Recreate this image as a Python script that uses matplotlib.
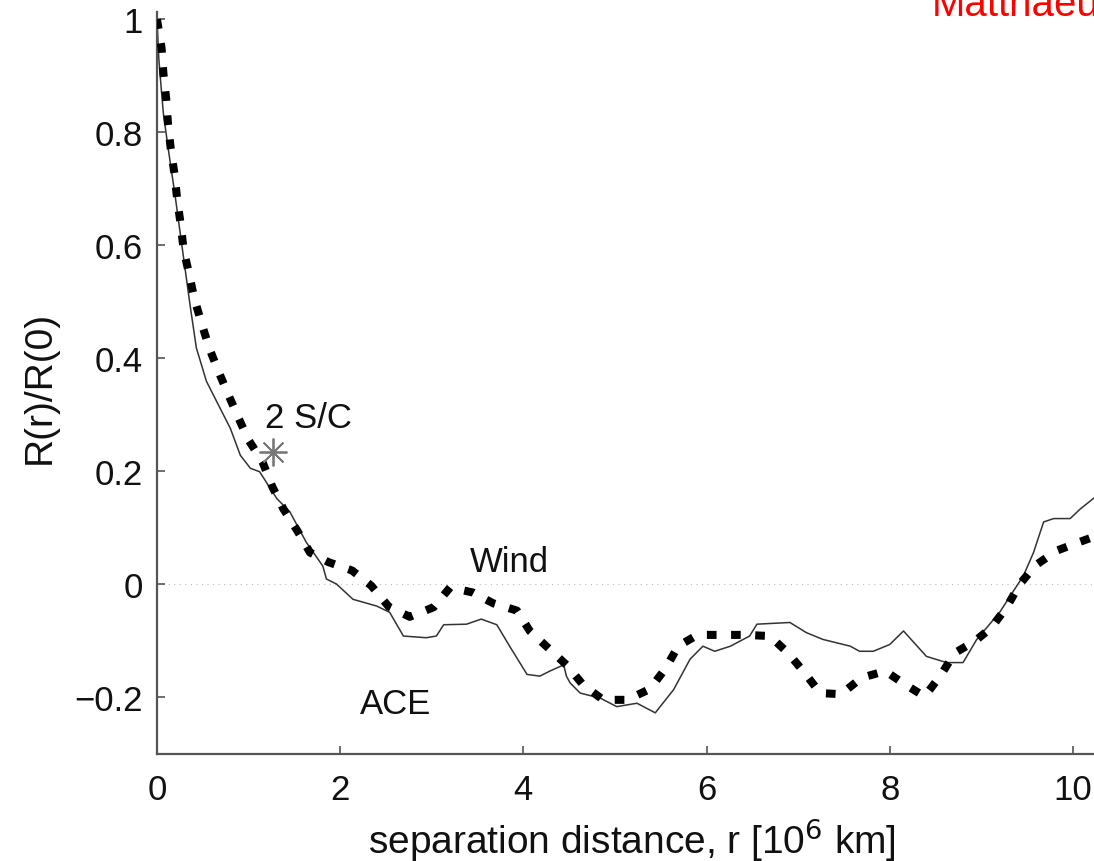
import matplotlib
matplotlib.use("Agg")
import matplotlib.pyplot as plt

plt.rcParams['font.family'] = ['Liberation Sans', 'DejaVu Sans']

# ---- data ----
ace_x = [0.00, 0.02, 0.05, 0.07, 0.12, 0.20, 0.29, 0.36, 0.43, 0.54, 0.69, 0.80, 0.91,
         1.02, 1.12, 1.31, 1.45, 1.63, 1.81, 1.85, 1.96, 2.14, 2.40, 2.54, 2.69, 2.94,
         3.05, 3.13, 3.38, 3.54, 3.71, 3.85, 4.04, 4.18, 4.29, 4.44, 4.47, 4.51, 4.62,
         4.84, 5.02, 5.24, 5.44, 5.64, 5.82, 5.96, 6.09, 6.26, 6.47, 6.55, 6.91, 7.09,
         7.27, 7.57, 7.67, 7.82, 8.00, 8.15, 8.40, 8.62, 8.80, 8.95, 9.20, 9.46, 9.57,
         9.68, 9.79, 9.97, 10.08, 10.25]
ace_y = [1.000, 0.930, 0.870, 0.833, 0.774, 0.685, 0.578, 0.495, 0.418, 0.359, 0.311,
         0.276, 0.228, 0.205, 0.199, 0.151, 0.128, 0.074, 0.032, 0.009, 0.000, -0.027,
         -0.039, -0.050, -0.092, -0.095, -0.092, -0.072, -0.071, -0.062, -0.072, -0.110,
         -0.160, -0.163, -0.154, -0.143, -0.163, -0.175, -0.193, -0.202, -0.217, -0.211,
         -0.228, -0.187, -0.133, -0.110, -0.119, -0.110, -0.092, -0.071, -0.068, -0.086,
         -0.098, -0.110, -0.119, -0.119, -0.107, -0.083, -0.128, -0.139, -0.139, -0.098,
         -0.050, 0.015, 0.056, 0.110, 0.116, 0.116, 0.133, 0.155]

wind_x = [0.00, 0.05, 0.07, 0.10, 0.12, 0.15, 0.19, 0.22, 0.26, 0.29, 0.35, 0.41, 0.49,
          0.57, 0.67, 0.78, 0.89, 1.00, 1.15, 1.26, 1.38, 1.53, 1.67, 1.87, 2.13, 2.34,
          2.53, 2.76, 3.02, 3.20, 3.45, 3.67, 3.93, 4.07, 4.27, 4.47, 4.65, 4.87, 5.13,
          5.38, 5.55, 5.69, 5.90, 6.16, 6.43, 6.69, 6.89, 7.07, 7.24, 7.47, 7.69, 7.95,
          8.17, 8.38, 8.55, 8.71, 8.93, 9.11, 9.28, 9.42, 9.59, 9.82, 10.08, 10.25]
wind_y = [1.000, 0.949, 0.904, 0.860, 0.815, 0.771, 0.727, 0.682, 0.635, 0.593, 0.549,
          0.504, 0.460, 0.418, 0.377, 0.335, 0.294, 0.255, 0.217, 0.172, 0.133, 0.095,
          0.056, 0.039, 0.024, -0.003, -0.040, -0.058, -0.041, -0.006, -0.015, -0.034,
          -0.047, -0.083, -0.113, -0.143, -0.178, -0.205, -0.205, -0.186, -0.150, -0.110,
          -0.090, -0.090, -0.090, -0.092, -0.122, -0.157, -0.193, -0.195, -0.166, -0.154,
          -0.178, -0.199, -0.163, -0.122, -0.101, -0.077, -0.040, 0.000, 0.033, 0.059,
          0.075, 0.085]

sc_x = [1.27]
sc_y = [0.234]

x_ticks = [0, 2, 4, 6, 8, 10]
x_ticklabels = ['0', '2', '4', '6', '8', '10']
y_ticks = [-0.2, 0, 0.2, 0.4, 0.6, 0.8, 1.0]
y_ticklabels = ['\u22120.2', '0', '0.2', '0.4', '0.6', '0.8', '1']

# ---- figure ----
W, H = 1094, 862
fig = plt.figure(figsize=(W / 100, H / 100), dpi=100)
ax = fig.add_axes([157 / W, 107.5 / H, (W - 157) / W, (754.5 - 13) / H])

ax.axhline(0, color='#bbbbbb', lw=0.8, ls=(0, (1, 4)), zorder=1)
ax.plot(ace_x, ace_y, color='#333333', lw=1.1, zorder=2)
ax.plot(wind_x, wind_y, color='black', lw=5.8, ls=(0, (1.2, 1.8)),
        dash_capstyle='butt', zorder=3)
ax.plot(sc_x, sc_y, ls='none', marker=(8, 2, 0), ms=20, mew=1.3,
        color='#777777', zorder=4)

fs = 25
ax.text(1.18, 0.279, '2 S/C', fontsize=fs, color='#111111')
ax.text(3.42, 0.023, 'Wind', fontsize=fs, color='#111111')
ax.text(2.22, -0.228, 'ACE', fontsize=fs, color='#111111')

ax.set_xlim(0, 10.23)
ax.set_ylim(-0.3, 1.013)
ax.set_xticks(x_ticks)
ax.set_xticklabels(x_ticklabels)
ax.set_yticks(y_ticks)
ax.set_yticklabels(y_ticklabels)
ax.tick_params(direction='in', length=6, width=1.2, color='#555555',
               labelsize=fs, labelcolor='#111111')
ax.tick_params(axis='y', pad=10)
ax.tick_params(axis='x', pad=14)
for s in ['top', 'right']:
    ax.spines[s].set_visible(False)
for s in ['left', 'bottom']:
    ax.spines[s].set_color('#555555')
    ax.spines[s].set_linewidth(1.6)

fig.text(632 / W, 1 - 854 / H, 'separation distance, r [10$^6$ km]',
         fontsize=28, ha='center', va='baseline', color='#111111')
fig.text(40 / W, 1 - 387 / H, 'R(r)/R(0)', fontsize=28, rotation=90,
         ha='center', va='center', color='#111111')

fig.text(932 / W, 1 - 16 / H, 'Matthaeus', fontsize=29, color='red',
         ha='left', va='baseline')

fig.savefig('out.png', dpi=100)
